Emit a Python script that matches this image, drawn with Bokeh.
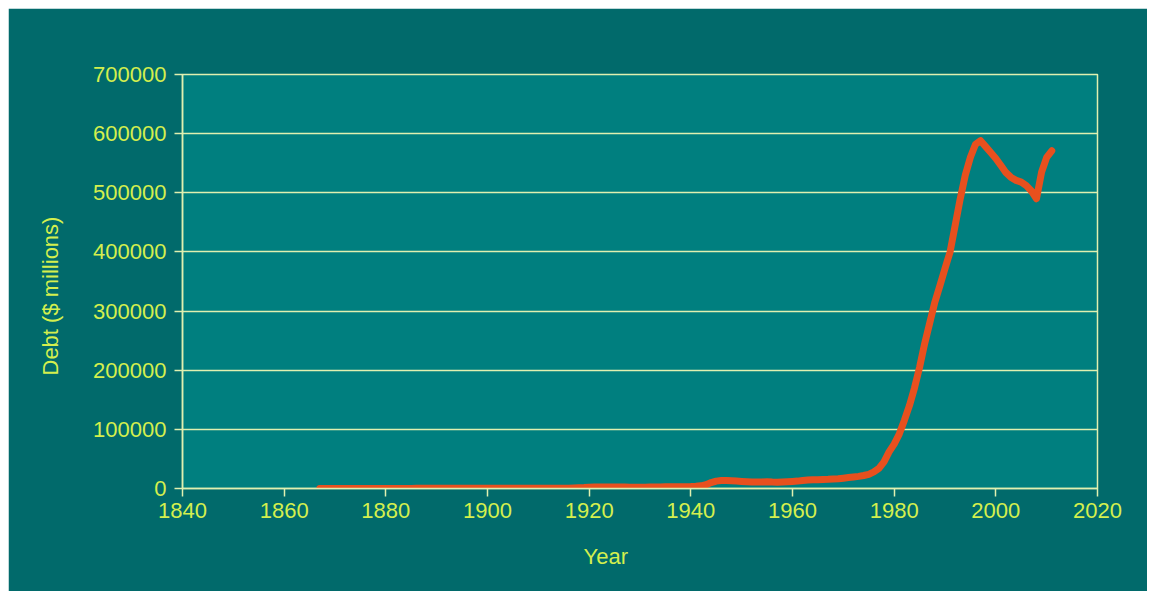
from bokeh.plotting import figure
from bokeh.models import Range1d, FixedTicker, BasicTickFormatter, Title
from bokeh.embed import file_html
from bokeh.resources import INLINE

years = list(range(1867, 2012))
debt = [
    80, 80, 85, 80, 80, 85, 100, 110, 115, 125,            # 1867-1876
    135, 140, 145, 150, 155, 155, 160, 180, 195, 225,      # 1877-1886
    225, 235, 235, 235, 235, 240, 240, 245, 255, 260,      # 1887-1896
    260, 265, 265, 265, 270, 270, 260, 260, 265, 265,      # 1897-1906
    265, 280, 325, 335, 340, 340, 315, 335, 450, 615,      # 1907-1916
    880, 1190, 1575, 2250, 2340, 2420, 2450, 2420, 2420, 2390,  # 1917-1926
    2350, 2300, 2225, 2180, 2260, 2375, 2600, 2730, 2850, 3000,  # 1927-1936
    3080, 3100, 3150, 3270, 3650, 4500, 6500, 10000, 12500, 13400,  # 1937-1946
    13500, 13000, 12500, 12000, 11500, 11000, 10800, 11000, 11500, 10800,  # 1947-1956
    10500, 11000, 11500, 12000, 12500, 13500, 14200, 14800, 15000, 15200,  # 1957-1966
    15500, 16000, 16500, 17500, 18500, 19500, 20500, 22000, 24000, 28000,  # 1967-1976
    34000, 45000, 62000, 75000, 92000, 115000, 140000, 170000, 205000, 245000,  # 1977-1986
    280000, 315000, 343000, 372000, 400000, 445000, 490000, 530000, 560000, 582000,  # 1987-1996
    588000, 578000, 568000, 558000, 546000, 534000, 526000, 521000, 518000, 512000,  # 1997-2006
    503000, 490000, 535000, 560000, 571000,                # 2007-2011
]

x_ticks = [1840, 1860, 1880, 1900, 1920, 1940, 1960, 1980, 2000, 2020]
y_ticks = [0, 100000, 200000, 300000, 400000, 500000, 600000, 700000]
x_title = "Year"
y_title = "Debt ($ millions)"

BORDER = "#016a6b"
PLOT_BG = "#007f7f"
TEXT = "#d4ef4e"
GRID = "#e0f0b0"
LINE = "#e8501e"
FONT = "Liberation Sans"

p = figure(width=1139, height=583, output_backend="svg", toolbar_location=None,
           x_range=Range1d(1840, 2020), y_range=Range1d(0, 700000),
           min_border_left=174, min_border_right=50, min_border_top=66, min_border_bottom=103)
p.margin = (8, 8, 0, 8)

p.border_fill_color = BORDER
p.background_fill_color = PLOT_BG
p.outline_line_color = GRID
p.outline_line_width = 1.5

p.xgrid.grid_line_color = None
p.ygrid.grid_line_color = GRID
p.ygrid.grid_line_width = 1.5
p.ygrid.ticker = FixedTicker(ticks=y_ticks)

p.xaxis.ticker = FixedTicker(ticks=x_ticks)
p.yaxis.ticker = FixedTicker(ticks=y_ticks)
p.yaxis.formatter = BasicTickFormatter(use_scientific=False)

for ax in (p.xaxis[0], p.yaxis[0]):
    ax.axis_line_color = GRID
    ax.axis_line_width = 1.5
    ax.major_tick_line_color = GRID
    ax.major_tick_line_width = 1.5
    ax.major_tick_in = 0
    ax.major_tick_out = 8
    ax.minor_tick_line_color = None
    ax.major_label_text_color = TEXT
    ax.major_label_text_font = FONT
    ax.major_label_text_font_size = "22px"

p.xaxis.major_label_standoff = 6
p.yaxis.major_label_standoff = 8

xt = Title(text=x_title, align="left", offset=401, standoff=43,
           text_color=TEXT, text_font=FONT, text_font_size="22px", text_font_style="normal")
yt = Title(text=y_title, align="left", offset=113, standoff=55,
           text_color=TEXT, text_font=FONT, text_font_size="22px", text_font_style="normal")
p.add_layout(xt, "below")
p.add_layout(yt, "left")

p.line(years, debt, line_color=LINE, line_width=7, line_join="round", line_cap="round")

open("out.html", "w").write(file_html(p, INLINE))
